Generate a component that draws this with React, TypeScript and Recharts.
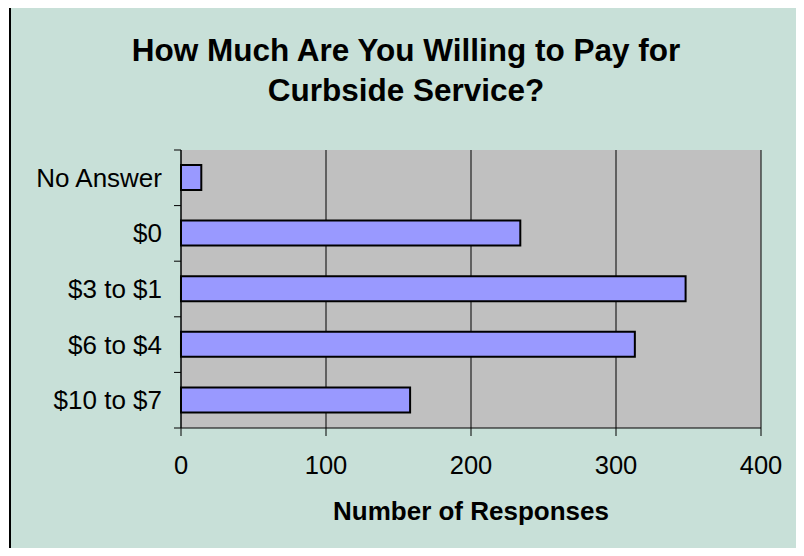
import React from "react";
import { BarChart, Bar, XAxis, YAxis, CartesianGrid, Label } from "recharts";

const categories = ["No Answer", "$0", "$3 to $1", "$6 to $4", "$10 to $7"];
const responses = [14, 234, 348, 313, 158];
const xTicks = [0, 100, 200, 300, 400];

const data = categories.map((name, i) => ({ name, responses: responses[i] }));

const FONT = '"Liberation Sans", Arial, sans-serif';
const W = 804;
const H = 556;
const margin = { top: 150, right: 43, bottom: 28, left: 0 };
const X_AXIS_H = 100;
const BAND = (H - margin.top - margin.bottom - X_AXIS_H) / categories.length;

// category label plus the small tick marks between bands
const CategoryTick = (props: any) => {
  const { x, y, payload, index } = props;
  const axisX = x + 19;
  return (
    <g>
      <text
        x={x}
        y={y}
        textAnchor="end"
        dominantBaseline="central"
        fontSize={26}
        fontFamily={FONT}
        fill="#000"
      >
        {payload.value}
      </text>
      <line x1={axisX - 7} x2={axisX} y1={y - BAND / 2} y2={y - BAND / 2} stroke="#000" />
      {index === categories.length - 1 && (
        <line x1={axisX - 7} x2={axisX} y1={y + BAND / 2} y2={y + BAND / 2} stroke="#000" />
      )}
    </g>
  );
};

export default function App() {
  return (
    <div style={{ margin: -8, position: "relative", width: W, height: H, overflow: "hidden" }}>
      <div
        style={{
          position: "absolute",
          left: 9,
          top: 6,
          width: 789,
          height: 600,
          border: "2px solid #000",
          background: "#C8E0D8",
        }}
      />
      <div
        style={{
          position: "absolute",
          left: 0,
          width: 812,
          top: 30,
          textAlign: "center",
          fontFamily: FONT,
          fontWeight: "bold",
          fontSize: 31.5,
          lineHeight: "40px",
          color: "#000",
        }}
      >
        How Much Are You Willing to Pay for
        <br />
        Curbside Service?
      </div>
      <div style={{ position: "absolute", left: 0, top: 0 }}>
        <BarChart width={W} height={H} data={data} layout="vertical" margin={margin}>
          <CartesianGrid horizontal={false} fill="#C0C0C0" stroke="#000" fillOpacity={1} />
          <XAxis
            type="number"
            domain={[0, 400]}
            ticks={xTicks}
            height={X_AXIS_H}
            tickSize={8}
            tickMargin={20}
            axisLine={{ stroke: "#000" }}
            tickLine={{ stroke: "#000" }}
            tick={{ fontSize: 25.5, fontFamily: FONT, fill: "#000" }}
          >
            <Label
              value="Number of Responses"
              position="insideBottom"
              offset={8}
              style={{ fontSize: 26, fontWeight: "bold", fontFamily: FONT, fill: "#000" }}
            />
          </XAxis>
          <XAxis
            xAxisId="top"
            orientation="top"
            type="number"
            domain={[0, 400]}
            height={0}
            tick={false}
            tickLine={false}
            axisLine={{ stroke: "#808080" }}
          />
          <YAxis
            type="category"
            dataKey="name"
            width={181}
            tickLine={false}
            tickSize={0}
            tickMargin={19}
            axisLine={{ stroke: "#000" }}
            tick={<CategoryTick />}
            interval={0}
          />
          <YAxis
            yAxisId="right"
            orientation="right"
            type="category"
            dataKey="name"
            width={0}
            tick={false}
            tickLine={false}
            axisLine={{ stroke: "#808080" }}
          />
          <Bar
            dataKey="responses"
            fill="#9999FF"
            stroke="#000"
            strokeWidth={2}
            barSize={25}
            isAnimationActive={false}
          />
        </BarChart>
      </div>
    </div>
  );
}
